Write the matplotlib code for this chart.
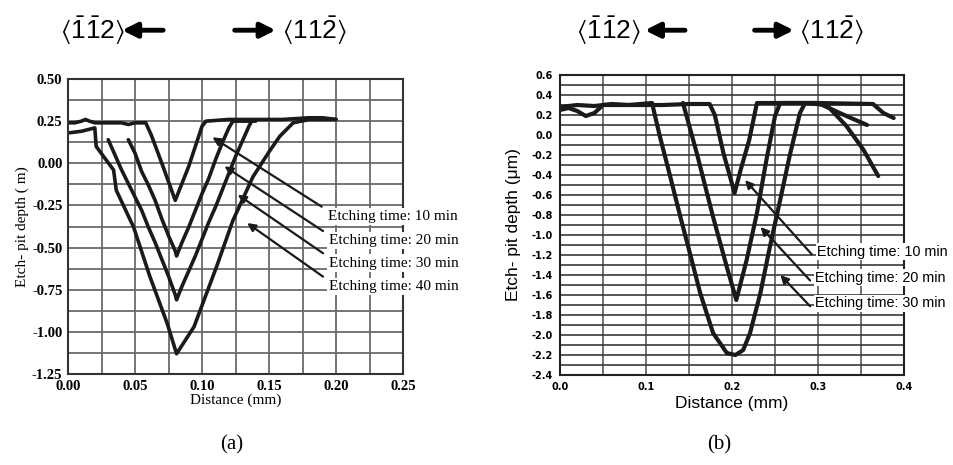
import matplotlib
matplotlib.use('Agg')
import matplotlib.pyplot as plt

plt.rcParams['mathtext.fontset'] = 'custom'
plt.rcParams['mathtext.rm'] = 'Liberation Sans'
plt.rcParams['mathtext.fallback'] = 'stixsans'

# ---- panel (a) data: etch-pit depth profiles (um) vs distance (mm)
a_x_10 = [0.000, 0.005, 0.010, 0.013, 0.016, 0.020, 0.030, 0.040, 0.045, 0.050, 0.058, 0.062,
          0.070, 0.080, 0.090, 0.100, 0.103, 0.120, 0.140, 0.160, 0.180, 0.190, 0.200]
a_y_10 = [0.24, 0.24, 0.25, 0.26, 0.25, 0.24, 0.24, 0.24, 0.23, 0.24, 0.24, 0.17,
          0.00, -0.22, -0.02, 0.22, 0.25, 0.26, 0.26, 0.26, 0.27, 0.27, 0.26]
a_x_20 = [0.045, 0.050, 0.055, 0.060, 0.065, 0.070, 0.075, 0.080, 0.081, 0.085, 0.090,
          0.095, 0.100, 0.105, 0.110, 0.115, 0.120, 0.123, 0.140]
a_y_20 = [0.14, 0.06, -0.05, -0.13, -0.22, -0.33, -0.43, -0.52, -0.55, -0.47, -0.38,
          -0.28, -0.18, -0.09, 0.02, 0.12, 0.21, 0.25, 0.25]
a_x_30 = [0.030, 0.035, 0.040, 0.045, 0.050, 0.055, 0.060, 0.065, 0.070, 0.075, 0.080, 0.081,
          0.085, 0.090, 0.095, 0.100, 0.105, 0.110, 0.115, 0.120, 0.125, 0.130, 0.135, 0.137]
a_y_30 = [0.14, 0.05, -0.04, -0.12, -0.20, -0.28, -0.38, -0.47, -0.57, -0.67, -0.78, -0.81,
          -0.73, -0.64, -0.55, -0.45, -0.35, -0.26, -0.16, -0.06, 0.04, 0.13, 0.22, 0.25]
a_x_40 = [0.000, 0.010, 0.015, 0.020, 0.021, 0.034, 0.036, 0.049, 0.061, 0.074, 0.081,
          0.094, 0.111, 0.123, 0.138, 0.151, 0.158, 0.168, 0.180, 0.200]
a_y_40 = [0.18, 0.19, 0.20, 0.21, 0.10, -0.04, -0.16, -0.38, -0.67, -0.95, -1.13,
          -0.97, -0.61, -0.34, -0.08, 0.08, 0.16, 0.24, 0.26, 0.26]
a_labels = ['Etching time: 10 min', 'Etching time: 20 min',
            'Etching time: 30 min', 'Etching time: 40 min']
a_heads = [(0.106, 0.163), (0.115, -0.009), (0.125, -0.177), (0.132, -0.345)]
a_tails = [(0.191, -0.266), (0.192, -0.411), (0.192, -0.543), (0.192, -0.682)]
a_xticks = [0.00, 0.05, 0.10, 0.15, 0.20, 0.25]
a_yticks = [0.50, 0.25, 0.00, -0.25, -0.50, -0.75, -1.00, -1.25]

# ---- panel (b) data
b_x_10 = [0.000, 0.010, 0.020, 0.030, 0.040, 0.050, 0.070, 0.100, 0.120, 0.150, 0.174, 0.180,
          0.190, 0.203, 0.210, 0.220, 0.229, 0.260, 0.300, 0.364, 0.376, 0.388]
b_y_10 = [0.25, 0.27, 0.24, 0.19, 0.22, 0.30, 0.30, 0.30, 0.30, 0.31, 0.31, 0.20,
          -0.18, -0.58, -0.35, -0.05, 0.32, 0.32, 0.32, 0.31, 0.22, 0.17]
b_x_20 = [0.143, 0.159, 0.178, 0.194, 0.205, 0.217, 0.229, 0.240, 0.250, 0.256, 0.300,
          0.333, 0.357]
b_y_20 = [0.32, -0.18, -0.82, -1.32, -1.65, -1.25, -0.78, -0.25, 0.19, 0.32, 0.32,
          0.19, 0.10]
b_x_30 = [0.000, 0.020, 0.040, 0.060, 0.080, 0.107, 0.116, 0.128, 0.140, 0.151, 0.163, 0.178,
          0.194, 0.204, 0.213, 0.221, 0.233, 0.244, 0.256, 0.267, 0.279, 0.285, 0.310,
          0.333, 0.353, 0.370]
b_y_30 = [0.28, 0.30, 0.29, 0.31, 0.30, 0.32, -0.01, -0.41, -0.82, -1.18, -1.58, -1.98,
          -2.18, -2.20, -2.15, -1.98, -1.58, -1.12, -0.65, -0.21, 0.22, 0.32, 0.30,
          0.09, -0.15, -0.41]
b_labels = ['Etching time: 10 min', 'Etching time: 20 min', 'Etching time: 30 min']
b_heads = [(0.213, -0.43), (0.231, -0.90), (0.254, -1.38)]
b_tails = [(0.295, -1.215), (0.293, -1.475), (0.293, -1.732)]
b_xticks = [0.0, 0.1, 0.2, 0.3, 0.4]
b_yticks = [0.6, 0.4, 0.2, 0.0, -0.2, -0.4, -0.6, -0.8, -1.0, -1.2, -1.4, -1.6, -1.8,
            -2.0, -2.2, -2.4]

fig = plt.figure(figsize=(9.54, 4.65), dpi=100)
serif = 'Liberation Serif'
sans = 'Liberation Sans'
ink = '#1a1a1a'

# ================= panel (a)
ax = fig.add_axes([0.0713, 0.1957, 0.3512, 0.6344])
ax.set_xlim(0, 0.25)
ax.set_ylim(-1.25, 0.5)
ax.set_xticks([i * 0.025 for i in range(11)], minor=True)
ax.set_yticks([0.5 - i * 0.125 for i in range(15)], minor=True)
ax.set_xticks(a_xticks)
ax.set_yticks(a_yticks)
ax.set_xticklabels(['%.2f' % v for v in a_xticks], fontfamily=serif, fontsize=10.5, fontweight='bold')
ax.set_yticklabels(['%.2f' % v for v in a_yticks], fontfamily=serif, fontsize=10.5, fontweight='bold')
ax.tick_params(which='both', length=0, pad=4)
ax.grid(which='both', color='#6a6a6a', lw=1.3)
for s in ax.spines.values():
    s.set_color('#333333')
    s.set_linewidth(1.5)
for xs, ys in [(a_x_10, a_y_10), (a_x_20, a_y_20), (a_x_30, a_y_30), (a_x_40, a_y_40)]:
    ax.plot(xs, ys, color=ink, lw=2.6, solid_capstyle='round')
for lab, h, t in zip(a_labels, a_heads, a_tails):
    ax.annotate('', xy=h, xytext=t,
                arrowprops=dict(arrowstyle='-|>', color=ink, lw=1.6, mutation_scale=12))
    ax.text(t[0] + 0.003, t[1] - 0.01, lab, fontfamily=serif, fontsize=11, va='top',
            ha='left', clip_on=False, zorder=5,
            bbox=dict(facecolor='white', edgecolor='none', pad=1.5))
ax.set_xlabel('Distance (mm)', fontfamily=serif, fontsize=11, labelpad=1)
ax.set_ylabel('Etch\u2010 pit depth ( m)', fontfamily=serif, fontsize=11, labelpad=2)

# ================= panel (b)
bx = fig.add_axes([0.587, 0.1935, 0.3606, 0.6452])
bx.set_xlim(0, 0.4)
bx.set_ylim(-2.4, 0.6)
bx.set_xticks([i * 0.05 for i in range(9)], minor=True)
bx.set_yticks([0.6 - i * 0.1 for i in range(31)], minor=True)
bx.set_xticks(b_xticks)
bx.set_yticks(b_yticks)
bx.set_xticklabels(['%.1f' % v for v in b_xticks], fontsize=7, fontweight='bold')
bx.set_yticklabels(['%.1f' % v for v in b_yticks], fontsize=7, fontweight='bold')
bx.tick_params(which='both', length=0, pad=5)
bx.grid(which='both', axis='y', color='#3a3a3a', lw=1.2)
bx.grid(which='both', axis='x', color='#5a5a5a', lw=1.2)
for s in bx.spines.values():
    s.set_color('#222222')
    s.set_linewidth(1.5)
for xs, ys in [(b_x_10, b_y_10), (b_x_20, b_y_20), (b_x_30, b_y_30)]:
    bx.plot(xs, ys, color=ink, lw=3.0, solid_capstyle='round')
for lab, h, t in zip(b_labels, b_heads, b_tails):
    bx.annotate('', xy=h, xytext=t,
                arrowprops=dict(arrowstyle='-|>', color=ink, lw=1.6, mutation_scale=12))
    bx.text(t[0] + 0.004, t[1] + 0.05, lab, fontfamily=sans, fontsize=10.4, va='center',
            ha='left', clip_on=False, zorder=5,
            bbox=dict(facecolor='white', edgecolor='none', pad=1.0))
bx.set_xlabel('Distance (mm)', fontfamily=sans, fontsize=12.5, labelpad=3)
bx.set_ylabel('Etch- pit depth (\u03bcm)', fontfamily=sans, fontsize=12.5, labelpad=8)

# ================= crystal direction headers
hy = 0.935
for x0, x1, l_from, l_to, r_from, r_to in [(0.063, 0.296, 0.171, 0.128, 0.246, 0.289),
                                            (0.604, 0.838, 0.718, 0.676, 0.791, 0.832)]:
    fig.text(x0, hy, r'$\langle\bar{1}\bar{1}2\rangle$', fontsize=19, va='center')
    fig.text(x1, hy, r'$\langle11\bar{2}\rangle$', fontsize=19, va='center')
    for a, b in [(l_from, l_to), (r_from, r_to)]:
        fig.add_artist(matplotlib.patches.FancyArrowPatch(
            (a, hy), (b, hy), transform=fig.transFigure, arrowstyle='-|>',
            mutation_scale=22, lw=3.5, color='black', shrinkA=0, shrinkB=0))

fig.text(0.243, 0.043, '(a)', fontfamily=serif, fontsize=15, ha='center', va='center')
fig.text(0.754, 0.043, '(b)', fontfamily=serif, fontsize=15, ha='center', va='center')

fig.savefig('out.png', dpi=100, facecolor='white')
